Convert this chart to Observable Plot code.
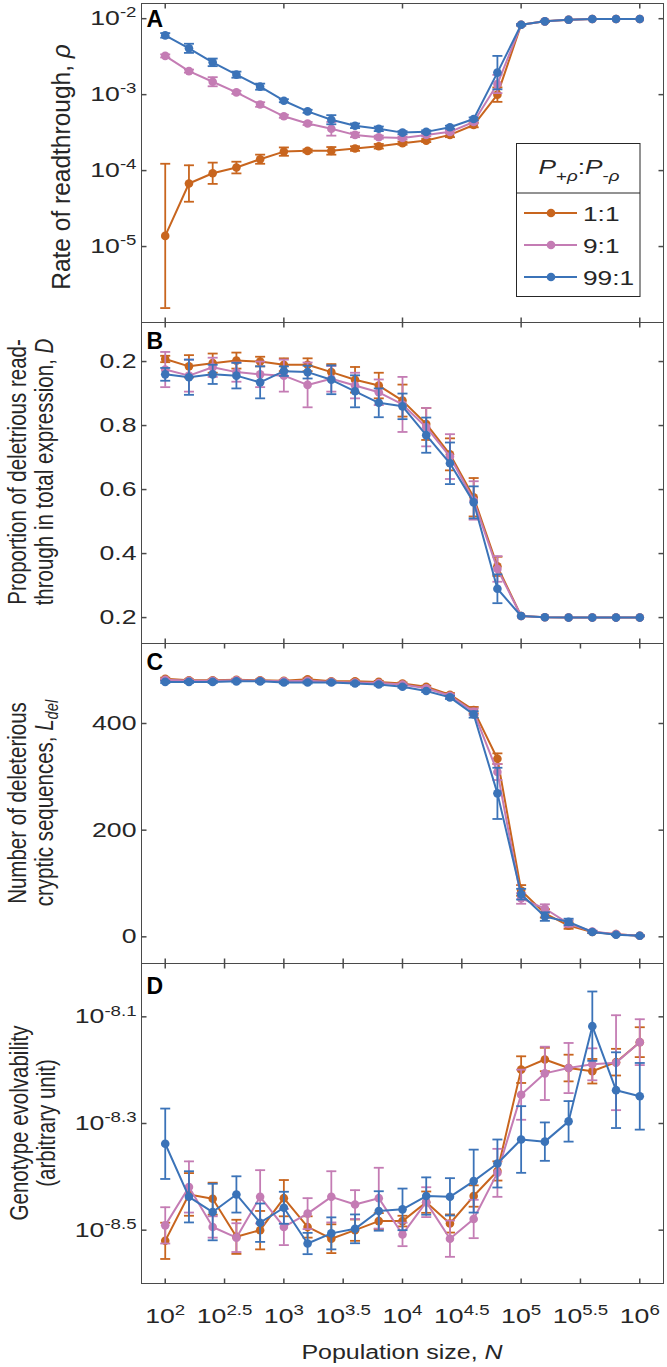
<!DOCTYPE html>
<html><head><meta charset="utf-8">
<script src="https://cdn.jsdelivr.net/npm/d3@7"></script>
<script src="https://cdn.jsdelivr.net/npm/@observablehq/plot@0.6"></script>
<style>
body{margin:0;background:#fff;}
#wrap{position:relative;width:667px;height:1367px;overflow:hidden;background:#fff;}
#wrap > svg{display:block;overflow:visible;}
</style></head><body><div id="wrap"></div>
<script>
// ---------- data ----------
const logN = [2,2.2,2.4,2.6,2.8,3,3.2,3.4,3.6,3.8,4,4.2,4.4,4.6,4.8,5,5.2,5.4,5.6,5.8,6];
const seriesNames = ["1:1","9:1","99:1"];
const seriesColors = ["#C8651E","#C47CB4","#3B73B8"];

const xTickValues = [2,2.5,3,3.5,4,4.5,5,5.5,6];
const xTickLabels = ["10^2","10^2.5","10^3","10^3.5","10^4","10^4.5","10^5","10^5.5","10^6"];
const xDecadeTicks = [2,3,4,5,6];

// Panel A: log10 of rate of readthrough, with half-width of error bar (log10 units)
const rhoLog11 = [-4.86,-4.17,-4.035,-3.96,-3.85,-3.75,-3.74,-3.74,-3.71,-3.68,-3.64,-3.605,-3.53,-3.40,-3.00,-2.08,-2.035,-2.013,-2.004,-2.004,-2.004];
const rhoLog91 = [-2.49,-2.69,-2.83,-2.97,-3.13,-3.285,-3.38,-3.45,-3.53,-3.56,-3.57,-3.53,-3.49,-3.36,-2.86,-2.08,-2.035,-2.013,-2.004,-2.004,-2.004];
const rhoLog991 = [-2.22,-2.39,-2.575,-2.737,-2.895,-3.08,-3.22,-3.33,-3.41,-3.45,-3.50,-3.49,-3.43,-3.32,-2.71,-2.08,-2.035,-2.013,-2.004,-2.004,-2.004];
const rhoErr11 = [0.95,0.24,0.14,0.077,0.06,0.055,0.02,0.05,0.03,0.03,0.02,0.02,0.03,0.03,0.095,0.01,0.01,0,0,0,0];
const rhoErr91 = [0.02,0.02,0.06,0.02,0.03,0.02,0.02,0.09,0.03,0.02,0.02,0.02,0.02,0.02,0.12,0.01,0,0,0,0,0];
const rhoErr991 = [0.03,0.06,0.05,0.04,0.04,0.02,0.02,0.06,0.03,0.03,0.02,0.02,0.02,0.02,0.22,0.01,0.005,0,0,0,0];
const yTicksA = [-2,-3,-4,-5];
const yLabelsA = ["10^-2","10^-3","10^-4","10^-5"];

// Panel B: proportion of deleterious readthrough
const propD11 = [1.008,0.985,0.995,1.003,1.0,0.99,0.99,0.967,0.943,0.925,0.878,0.805,0.71,0.576,0.36,0.205,0.201,0.2,0.2,0.2,0.2];
const propD91 = [0.975,0.956,0.982,0.967,0.96,0.956,0.927,0.946,0.925,0.904,0.866,0.795,0.703,0.566,0.352,0.205,0.201,0.2,0.2,0.2,0.2];
const propD991 = [0.96,0.951,0.96,0.956,0.935,0.97,0.967,0.943,0.907,0.871,0.86,0.77,0.682,0.56,0.29,0.205,0.201,0.2,0.2,0.2,0.2];
const propErr11 = [0.01,0.035,0.03,0.025,0.015,0.02,0.02,0.025,0.04,0.04,0.05,0.05,0.05,0.06,0.03,0,0,0,0,0,0];
const propErr91 = [0.055,0.05,0.03,0.03,0.04,0.05,0.07,0.04,0.04,0.04,0.086,0.06,0.07,0.06,0.04,0,0,0,0,0,0];
const propErr991 = [0.02,0.055,0.03,0.04,0.05,0.015,0.02,0.045,0.05,0.045,0.04,0.055,0.065,0.05,0.045,0,0,0,0,0,0];
const yTicksB = [1.0,0.8,0.6,0.4,0.2];
const yLabelsB = ["0.2","0.8","0.6","0.4","0.2"];

// Panel C: number of deleterious cryptic sequences
const ldel11 = [484,481,481,482,481,480,483,479,479,478,475,469,454,425,334,87,44,21,9,5,2];
const ldel91 = [482,480,480,481,480,479,480,478,477,476,473,466,452,422,309,72,53,25,10,5,2];
const ldel991 = [478,478,478,479,479,477,477,477,475,473,469,461,449,417,269,80,38,28,9,4,2];
const ldelErr11 = [2,2,2,2,2,2,2,2,2,2,2,2,3,6,10,10,8,6,2,1,1];
const ldelErr91 = [2,2,2,2,2,2,2,2,2,2,2,2,3,6,15,10,8,6,2,1,1];
const ldelErr991 = [2,2,2,2,2,2,2,2,2,2,2,2,3,6,48,10,8,6,2,1,1];
const yTicksC = [0,200,400];
const yLabelsC = ["0","200","400"];

// Panel D: log10 of genotype evolvability
const evoLog11 = [-8.52,-8.433,-8.441,-8.5125,-8.5,-8.44,-8.494,-8.516,-8.5,-8.483,-8.483,-8.4475,-8.4875,-8.436,-8.389,-8.199,-8.18,-8.196,-8.202,-8.185,-8.1475];
const evoLog91 = [-8.491,-8.419,-8.494,-8.514,-8.4375,-8.494,-8.469,-8.4375,-8.452,-8.44,-8.508,-8.4475,-8.516,-8.479,-8.3925,-8.246,-8.206,-8.196,-8.189,-8.186,-8.1475];
const evoLog991 = [-8.338,-8.4375,-8.466,-8.433,-8.486,-8.458,-8.525,-8.506,-8.4975,-8.464,-8.461,-8.436,-8.4375,-8.408,-8.375,-8.33,-8.334,-8.296,-8.1175,-8.2375,-8.249];
const evoErr11 = [0.034,0.04,0.03,0.032,0.036,0.034,0.02,0.027,0.02,0.015,0.01,0.02,0.017,0.02,0.018,0.025,0.022,0.025,0.023,0.025,0.028];
const evoErr91 = [0.034,0.048,0.02,0.027,0.05,0.034,0.029,0.048,0.027,0.057,0.022,0.028,0.034,0.036,0.045,0.047,0.05,0.047,0.03,0.089,0.043];
const evoErr991 = [0.066,0.048,0.053,0.034,0.036,0.03,0.02,0.03,0.027,0.037,0.039,0.035,0.035,0.059,0.045,0.0625,0.036,0.038,0.065,0.071,0.0625];
const yTicksD = [-8.1,-8.3,-8.5];
const yLabelsD = ["10^-8.1","10^-8.3","10^-8.5"];

// ---------- helpers ----------
const SX = 1.3;
const FONT = "'Liberation Sans', Arial, Helvetica, sans-serif";
const AXIS = "#4a4a4a";
const TXT = "#262626";
const svgNS = "http://www.w3.org/2000/svg";

function rows(vals, errs) {
  return vals.map((arr, s) => arr.map((v, i) => ({s, x: logN[i], v, e: errs[s][i], lo: v - errs[s][i], hi: v + errs[s][i]})));
}
const capSym = {draw(c){ c.moveTo(-5,0); c.lineTo(5,0); }};
const tickRight = {draw(c){ c.moveTo(0,0); c.lineTo(5,0); }};
const tickLeft = {draw(c){ c.moveTo(0,0); c.lineTo(-5,0); }};
const tickDown = {draw(c){ c.moveTo(0,0); c.lineTo(0,5); }};
const tickUp = {draw(c){ c.moveTo(0,0); c.lineTo(0,-5); }};

function seriesMarks(data) {
  const marks = [];
  data.forEach((d, s) => {
    const col = seriesColors[s];
    const withErr = d.filter(r => r.e > 0);
    marks.push(Plot.ruleX(withErr, {x: "x", y1: "lo", y2: "hi", stroke: col, strokeWidth: 1.8}));
    marks.push(Plot.dot(withErr, {x: "x", y: "lo", symbol: capSym, stroke: col, fill: "none", strokeWidth: 1.8}));
    marks.push(Plot.dot(withErr, {x: "x", y: "hi", symbol: capSym, stroke: col, fill: "none", strokeWidth: 1.8}));
    marks.push(Plot.line(d, {x: "x", y: "v", stroke: col, strokeWidth: 2}));
    marks.push(Plot.dot(d, {x: "x", y: "v", r: 4.3, fill: col, stroke: "none"}));
  });
  return marks;
}

function supify(t) {
  const s = t.textContent; const k = s.indexOf("^");
  if (k < 0) return;
  t.textContent = "";
  t.appendChild(document.createTextNode(s.slice(0, k)));
  const ts = document.createElementNS(svgNS, "tspan");
  ts.setAttribute("font-size", "0.7em");
  ts.setAttribute("dy", "-0.55em");
  ts.textContent = s.slice(k + 1);
  t.appendChild(ts);
}
function stretch(t, sx) {
  const L = t.getComputedTextLength();
  if (L > 0) { t.setAttribute("textLength", (L * sx).toFixed(2)); t.setAttribute("lengthAdjust", "spacingAndGlyphs"); }
}

function panel({height, marginTop, marginBottom, yDomain, yTicks, yLabels, xTicks, data, letter, letterDy, xAxis}) {
  const marks = [
    Plot.frame({stroke: AXIS, strokeWidth: 1}),
    Plot.dot(yTicks, {y: d => d, frameAnchor: "left", symbol: tickRight, stroke: AXIS, fill: "none"}),
    Plot.dot(yTicks, {y: d => d, frameAnchor: "right", symbol: tickLeft, stroke: AXIS, fill: "none"}),
    Plot.dot(xTicks, {x: d => d, frameAnchor: "top", symbol: tickDown, stroke: AXIS, fill: "none"}),
    Plot.dot(xTicks, {x: d => d, frameAnchor: "bottom", symbol: tickUp, stroke: AXIS, fill: "none"}),
    Plot.axisY({ticks: yTicks, tickSize: 0, tickPadding: 5, tickFormat: d => yLabels[yTicks.indexOf(d)], label: null, fill: TXT}),
    ...seriesMarks(data),
    Plot.text([letter], {text: d => d, frameAnchor: "top-left", dx: 5, dy: letterDy, lineAnchor: "top", textAnchor: "start", fontWeight: "bold", fontSize: 23, fill: "#000"})
  ];
  if (xAxis) marks.push(Plot.axisX({ticks: xTickValues, tickSize: 0, tickPadding: 25, tickFormat: d => xTickLabels[xTickValues.indexOf(d)], label: null, fill: TXT}));
  return Plot.plot({
    width: 667, height, marginLeft: 141, marginRight: 4, marginTop, marginBottom,
    x: {domain: [1.8, 6.2], axis: null},
    y: {domain: yDomain, axis: null},
    style: {fontFamily: FONT, fontSize: "20.5px", color: TXT, background: "transparent", overflow: "visible"},
    marks
  });
}

function yTitle(svg, lines, x0, gap, yc, lenFont) {
  const g = d3.select(svg);
  lines.forEach((segs, li) => {
    const t = g.append("text")
      .attr("transform", `translate(${x0 + li * gap},${yc}) rotate(-90)`)
      .attr("text-anchor", "middle").attr("font-family", FONT).attr("font-size", 25).attr("fill", TXT);
    segs.forEach(sg => {
      if (typeof sg === "string") t.append("tspan").text(sg);
      else if (sg.i) t.append("tspan").attr("font-style", "italic").text(sg.i);
      else if (sg.sub) t.append("tspan").attr("font-style", "italic").attr("font-size", "0.72em").attr("dy", "0.3em").text(sg.sub);
    });
    stretch(t.node(), lenFont / 25);
  });
}

// ---------- build ----------
const wrap = document.getElementById("wrap");
const panels = [
  {height: 322, marginTop: 3, marginBottom: 0, yDomain: [-6, -1.8], yTicks: yTicksA, yLabels: yLabelsA, xTicks: xDecadeTicks,
   data: rows([rhoLog11, rhoLog91, rhoLog991], [rhoErr11, rhoErr91, rhoErr991]), letter: "A", letterDy: 7},
  {height: 321, marginTop: 0, marginBottom: 0, yDomain: [0.119, 1.122], yTicks: yTicksB, yLabels: yLabelsB, xTicks: xDecadeTicks,
   data: rows([propD11, propD91, propD991], [propErr11, propErr91, propErr991]), letter: "B", letterDy: 10},
  {height: 320, marginTop: 0, marginBottom: 0, yDomain: [-50, 550], yTicks: yTicksC, yLabels: yLabelsC, xTicks: xTickValues,
   data: rows([ldel11, ldel91, ldel991], [ldelErr11, ldelErr91, ldelErr991]), letter: "C", letterDy: 10},
  {height: 404, marginTop: 0, marginBottom: 84, yDomain: [-8.6, -8.0], yTicks: yTicksD, yLabels: yLabelsD, xTicks: xTickValues,
   data: rows([evoLog11, evoLog91, evoLog991], [evoErr11, evoErr91, evoErr991]), letter: "D", letterDy: 14, xAxis: true}
];
const svgs = panels.map(p => { const s = panel(p); wrap.appendChild(s); return s; });

svgs.forEach(svg => {
  svg.querySelectorAll('g[aria-label$="tick label"] text').forEach(t => { supify(t); stretch(t, SX); });
});

yTitle(svgs[0], [["Rate of readthrough, ", {i: "ρ"}]], 70, 0, 167, 24.5);
yTitle(svgs[1], [["Proportion of deletrious read-"], ["through in total expression, ", {i: "D"}]], 26, 27, 150, 20.5);
yTitle(svgs[2], [["Number of deleterious"], ["cryptic sequences, ", {i: "L"}, {sub: "del"}]], 26, 27, 160, 20.5);
yTitle(svgs[3], [["Genotype evolvability"], ["(arbitrary unit)"]], 28, 27, 160, 20.5);

// x title
{
  const t = d3.select(svgs[3]).append("text").attr("x", 402).attr("y", 396).attr("text-anchor", "middle")
    .attr("font-family", FONT).attr("font-size", 19.5).attr("fill", TXT);
  t.append("tspan").text("Population size, ");
  t.append("tspan").attr("font-style", "italic").text("N");
  stretch(t.node(), 1.28);
}

// legend (inside panel A)
{
  const lg = d3.select(wrap).append("svg").attr("width", 125).attr("height", 155)
    .style("position", "absolute").style("left", "516px").style("top", "143px").style("overflow", "visible");
  lg.append("rect").attr("x", 0.5).attr("y", 0.5).attr("width", 123.5).attr("height", 153).attr("fill", "#fff").attr("stroke", TXT).attr("stroke-width", 1);
  lg.append("line").attr("x1", 0.5).attr("x2", 124).attr("y1", 50).attr("y2", 50).attr("stroke", TXT);
  const h = lg.append("text").attr("x", 63).attr("y", 31).attr("text-anchor", "middle").attr("font-family", FONT).attr("font-size", 21).attr("fill", TXT);
  h.append("tspan").attr("font-style", "italic").text("P");
  h.append("tspan").attr("font-size", 15).attr("dy", 7).text("+");
  h.append("tspan").attr("font-size", 15).attr("font-style", "italic").text("ρ");
  h.append("tspan").attr("dy", -7).text(":");
  h.append("tspan").attr("font-style", "italic").text("P");
  h.append("tspan").attr("font-size", 15).attr("dy", 7).text("-");
  h.append("tspan").attr("font-size", 15).attr("font-style", "italic").text("ρ");
  stretch(h.node(), 1.25);
  seriesNames.forEach((name, i) => {
    const cy = 70 + i * 32;
    lg.append("line").attr("x1", 8).attr("x2", 61).attr("y1", cy).attr("y2", cy).attr("stroke", seriesColors[i]).attr("stroke-width", 2);
    lg.append("circle").attr("cx", 35).attr("cy", cy).attr("r", 4.3).attr("fill", seriesColors[i]);
    const t = lg.append("text").attr("x", 67).attr("y", cy + 7.5).attr("font-family", FONT).attr("font-size", 21).attr("fill", TXT).text(name);
    stretch(t.node(), 1.25);
  });
}
</script></body></html>
